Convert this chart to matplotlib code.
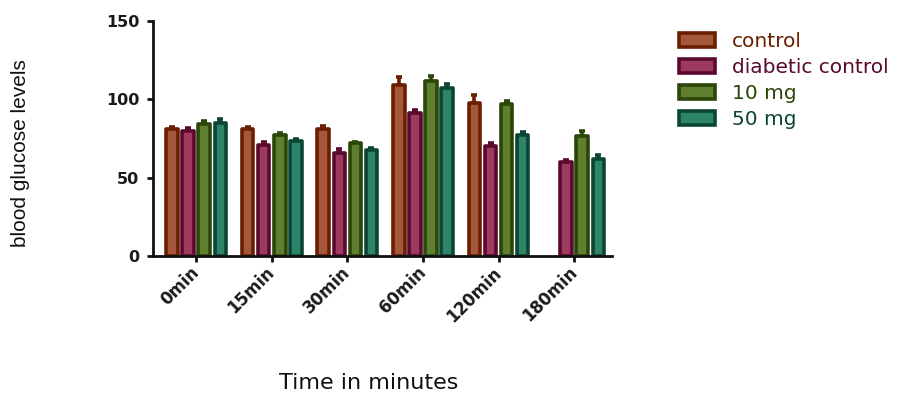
import numpy as np
import matplotlib
matplotlib.use("Agg")
import matplotlib.pyplot as plt
from matplotlib.transforms import ScaledTranslation

# Blood glucose (mean and upper error) per time point
time_points = ["0min", "15min", "30min", "60min", "120min", "180min"]
groups = ["control", "diabetic control", "10 mg", "50 mg"]

control = [81, 81, 81, 109, 98, np.nan]
diabetic_control = [80, 71, 66, 91, 70.5, 60]
dose_10mg = [84, 77, 72, 112, 97, 76.5]
dose_50mg = [85, 73.5, 67.5, 107, 77.5, 62]

control_err = [1.5, 1.5, 2, 5, 5, 0]
diabetic_control_err = [1.5, 2, 2.5, 2, 1.5, 1.5]
dose_10mg_err = [2, 1.5, 1, 3, 2, 3]
dose_50mg_err = [2.5, 1.5, 1.5, 2.5, 1.5, 2.5]

series = [control, diabetic_control, dose_10mg, dose_50mg]
errors = [control_err, diabetic_control_err, dose_10mg_err, dose_50mg_err]

fills = ["#A5573C", "#9E3A5F", "#5F7F2E", "#2E8468"]
edges = ["#6B1E00", "#5A0A2E", "#2A4608", "#0B4535"]

plt.rcParams["font.family"] = ["DejaVu Sans"]

fig = plt.figure(figsize=(9, 3.94), dpi=100)
ax = fig.add_axes([0.17, 0.35, 0.51, 0.5967])

x = np.arange(len(time_points))
slot = 0.213
width = 0.152
for i, (vals, errs, fc, ec, name) in enumerate(zip(series, errors, fills, edges, groups)):
    pos = x + (i - 1.5) * slot
    vals = np.array(vals, dtype=float)
    errs = np.array(errs, dtype=float)
    ax.errorbar(pos, vals, yerr=[np.zeros_like(errs), errs], fmt="none",
                ecolor=ec, elinewidth=2.6, capsize=2.2, capthick=2.6, zorder=2)
    ax.bar(pos, vals, width=width, color=fc, edgecolor=ec, linewidth=2.6,
           joinstyle="round", label=name, zorder=3)

ax.set_ylim(0, 150)
ax.set_xlim(-0.57, 5.5)
ax.set_yticks([0, 50, 100, 150])
ax.set_xticks(x)
ax.set_xticklabels(time_points, rotation=45, ha="right", va="center",
                   rotation_mode="anchor")
for lbl in ax.get_xticklabels():
    lbl.set_transform(lbl.get_transform() + ScaledTranslation(0.12, -0.03, fig.dpi_scale_trans))

for s in ["top", "right"]:
    ax.spines[s].set_visible(False)
for s in ["left", "bottom"]:
    ax.spines[s].set_linewidth(2.0)
    ax.spines[s].set_color("#111111")
    ax.spines[s].set_zorder(4)

ax.tick_params(axis="both", length=4, width=2.0, color="#111111", pad=6)
ax.tick_params(axis="y", labelsize=11.5)
ax.tick_params(axis="x", labelsize=12)
for lbl in ax.get_xticklabels() + ax.get_yticklabels():
    lbl.set_fontweight("bold")
    lbl.set_color("#1a1a1a")

fig.text(0.0225, 0.612, "blood glucose levels", rotation=90, ha="center", va="center",
         fontsize=15, family=["Liberation Sans", "DejaVu Sans"], color="#111111")
fig.text(0.41, 0.028, "Time in minutes", ha="center", va="center",
         fontsize=16, color="#111111")

leg = fig.legend(loc="upper left", bbox_to_anchor=(0.745, 0.94), frameon=False,
                 fontsize=14.5, handlelength=1.8, handleheight=0.7,
                 handletextpad=0.85, labelspacing=0.36, borderaxespad=0)
for txt, ec in zip(leg.get_texts(), edges):
    txt.set_color(ec)

fig.savefig("out.png", dpi=100)
